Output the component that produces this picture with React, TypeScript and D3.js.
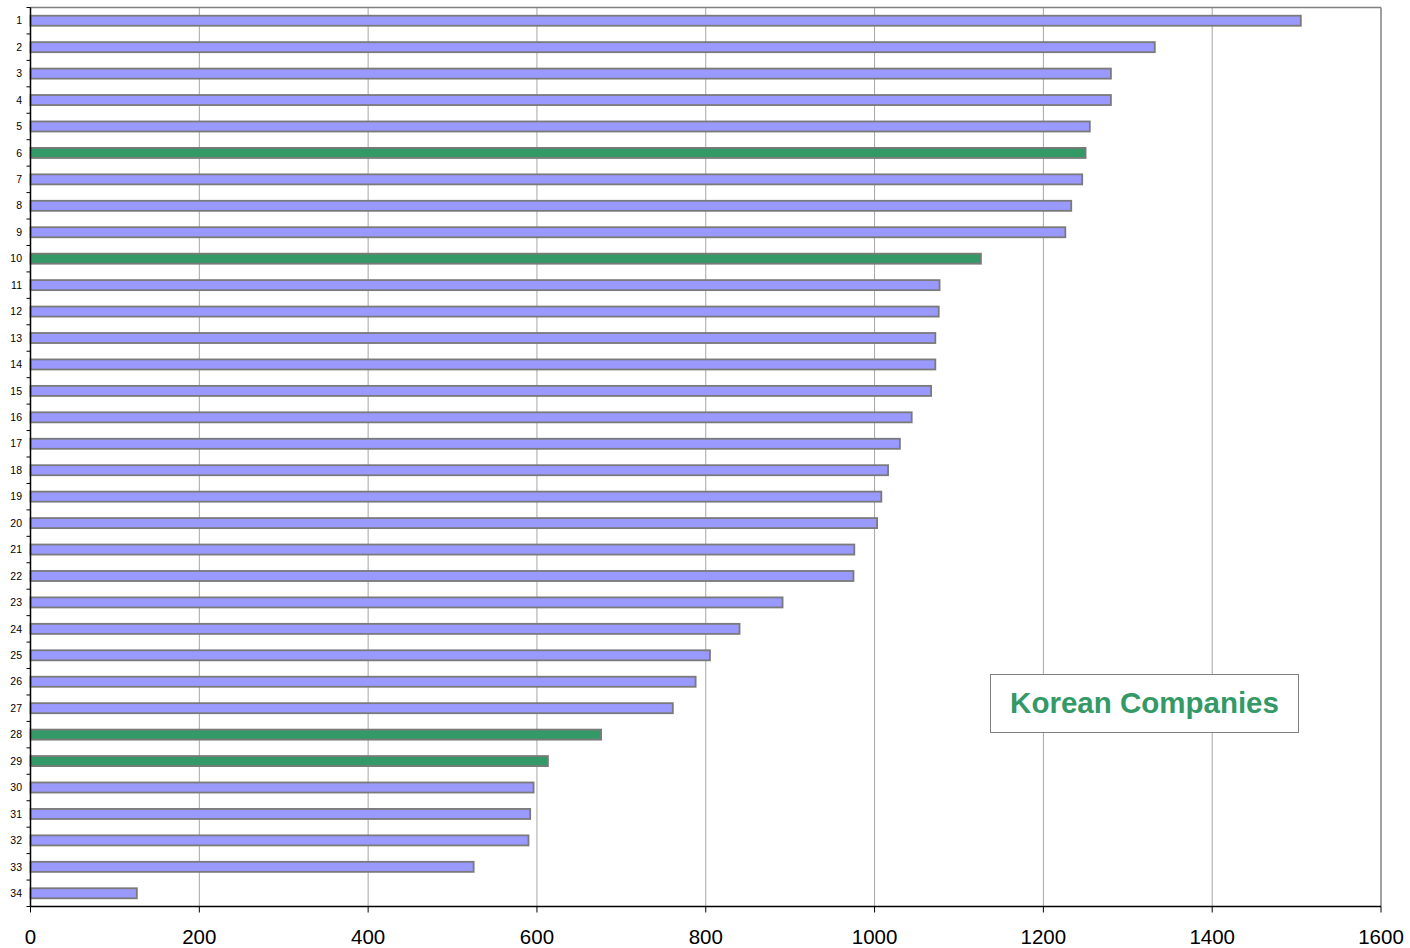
import React from "react";
import * as d3 from "d3";

const categories = Array.from({ length: 34 }, (_, i) => String(i + 1));
const values = [1505, 1332, 1280, 1280, 1255, 1250, 1246, 1233, 1226, 1126, 1077, 1076, 1072, 1072, 1067, 1044, 1030, 1016, 1008, 1003, 976, 975, 891, 840, 805, 788, 761, 676, 613, 596, 592, 590, 525, 126];
const korean = ["6", "10", "28", "29"];
const xTicks = [0, 200, 400, 600, 800, 1000, 1200, 1400, 1600];

export default function App() {
  const W = 1410, H = 948;
  const left = 30.5, right = 1381, top = 7.5, bottom = 906.5;
  const x = d3.scaleLinear().domain([0, 1600]).range([left, right]);
  const y = d3.scaleBand().domain(categories).range([top, bottom]).paddingInner(0.62).paddingOuter(0.31);
  const band = (bottom - top) / categories.length;
  const font = "Liberation Sans, Arial, sans-serif";
  return (
    <svg width={W} height={H} style={{ position: "absolute", left: 0, top: 0 }} fontFamily={font}>
      <rect x={0} y={0} width={W} height={H} fill="#fff" />
      {xTicks.slice(1, -1).map((t) => (
        <line key={t} x1={x(t)} x2={x(t)} y1={top} y2={bottom} stroke="#a6a6a6" strokeWidth={1} />
      ))}
      <line x1={left} x2={right} y1={top} y2={top} stroke="#808080" strokeWidth={1.5} />
      <line x1={right} x2={right} y1={top} y2={bottom} stroke="#808080" strokeWidth={1.5} />
      {categories.map((c, i) => (
        <rect key={c} x={x(0)} y={y(c)!} width={x(values[i]) - x(0)} height={y.bandwidth()}
          fill={korean.includes(c) ? "#339966" : "#9999ff"} stroke="#7a7a7a" strokeWidth={1.8} />
      ))}
      <line x1={left} x2={left} y1={top} y2={bottom} stroke="#000" strokeWidth={1.5} />
      {d3.range(categories.length + 1).map((i) => (
        <line key={i} x1={left - 4} x2={left} y1={top + i * band} y2={top + i * band} stroke="#000" strokeWidth={1} />
      ))}
      {categories.map((c) => (
        <text key={c} x={22} y={y(c)! + y.bandwidth() / 2} dy="0.35em" textAnchor="end" fontSize={10.5} fill="#000">{c}</text>
      ))}
      <line x1={left} x2={right} y1={bottom} y2={bottom} stroke="#000" strokeWidth={1.5} />
      {xTicks.map((t) => (
        <g key={t}>
          <line x1={x(t)} x2={x(t)} y1={bottom} y2={bottom + 6} stroke="#000" strokeWidth={1} />
          <text x={x(t)} y={944} textAnchor="middle" fontSize={20.5} fill="#000">{t}</text>
        </g>
      ))}
      <rect x={990.5} y={674.5} width={308} height={58} fill="#fff" stroke="#808080" strokeWidth={1} />
      <text x={1144.5} y={713} textAnchor="middle" fontSize={29.5} fontWeight="bold" fill="#339966">Korean Companies</text>
    </svg>
  );
}
